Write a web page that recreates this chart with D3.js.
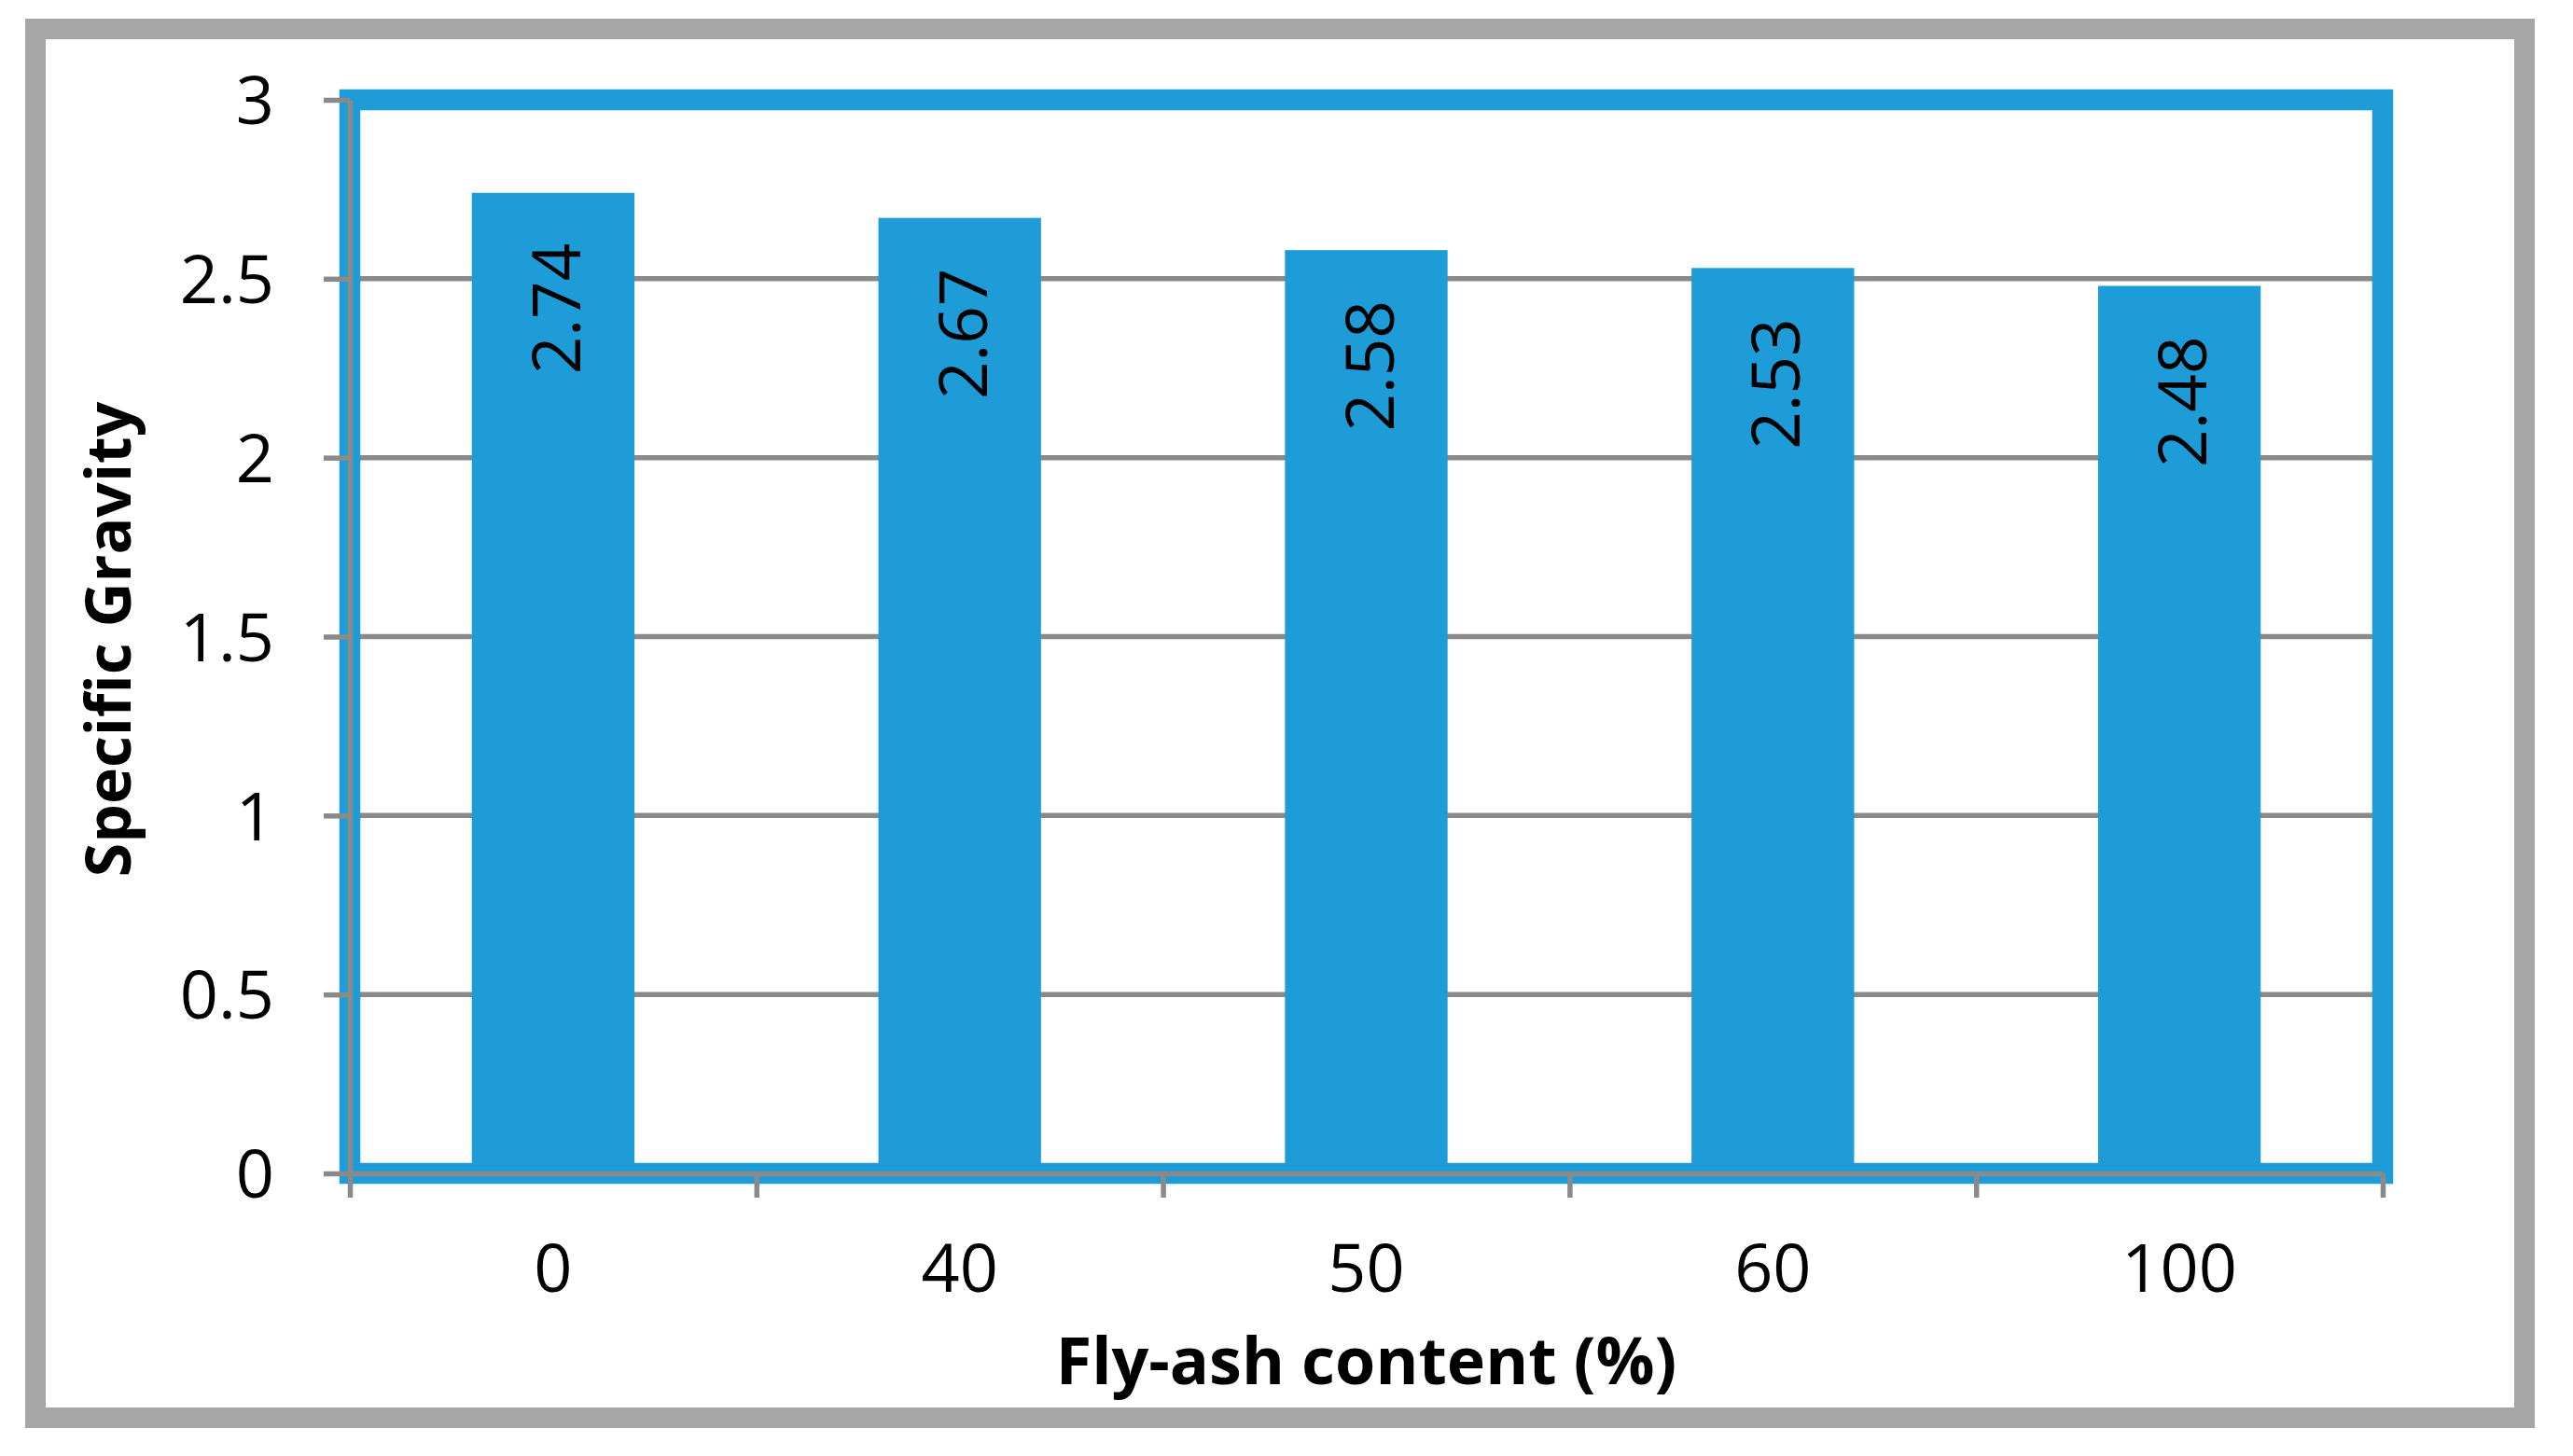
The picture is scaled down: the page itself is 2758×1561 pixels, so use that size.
<!DOCTYPE html>
<html>
<head>
<meta charset="utf-8">
<script src="https://cdn.jsdelivr.net/npm/d3@7"></script>
<style>
  html, body { margin: 0; padding: 0; background: #ffffff; }
  svg { display: block; }
</style>
</head>
<body>
<svg id="chart" width="2758" height="1561"></svg>
<script>
// ---- data ----
const categories = ["0", "40", "50", "60", "100"];
const values = [2.74, 2.67, 2.58, 2.53, 2.48];
const valueLabels = ["2.74", "2.67", "2.58", "2.53", "2.48"];
const yTicks = [0, 0.5, 1, 1.5, 2, 2.5, 3];
const yTickLabels = ["0", "0.5", "1", "1.5", "2", "2.5", "3"];
const xTitle = "Fly-ash content (%)";
const yTitle = "Specific Gravity";

// ---- layout ----
const W = 2758, H = 1561;
const plot = { left: 375, right: 2554, top: 107, bottom: 1258 };
const FONT = "'Open Sans', 'DejaVu Sans', sans-serif";
const BLUE = "#1e9cd8";
const GRID = "#8a8a8a";
const FRAME = "#a6a6a6";

const svg = d3.select("#chart");

// outer gray frame
svg.append("rect")
  .attr("x", 38).attr("y", 31)
  .attr("width", 2668).attr("height", 1489)
  .attr("fill", "#ffffff")
  .attr("stroke", FRAME).attr("stroke-width", 22);

// scales
const x = d3.scaleBand()
  .domain(categories)
  .range([plot.left, plot.right])
  .paddingInner(0.6).paddingOuter(0.3);
const xBound = d3.scaleLinear()
  .domain([0, categories.length])
  .range([plot.left, plot.right]);
const y = d3.scaleLinear()
  .domain([0, 3])
  .range([plot.bottom, plot.top]);

// gridlines
svg.append("g").selectAll("line")
  .data(yTicks)
  .join("line")
  .attr("x1", plot.left).attr("x2", plot.right)
  .attr("y1", d => y(d)).attr("y2", d => y(d))
  .attr("stroke", GRID).attr("stroke-width", 5.5);

// bars
svg.append("g").selectAll("rect")
  .data(values)
  .join("rect")
  .attr("x", (d, i) => x(categories[i]))
  .attr("width", x.bandwidth())
  .attr("y", d => y(d))
  .attr("height", d => y(0) - y(d))
  .attr("fill", BLUE);

// plot area border (blue)
svg.append("rect")
  .attr("x", plot.left).attr("y", plot.top)
  .attr("width", plot.right - plot.left)
  .attr("height", plot.bottom - plot.top)
  .attr("fill", "none")
  .attr("stroke", BLUE).attr("stroke-width", 22.5);

// data labels (rotated, inside end)
svg.append("g").selectAll("text")
  .data(values)
  .join("text")
  .attr("transform", (d, i) => {
    const cx = x(categories[i]) + x.bandwidth() / 2 + 29;
    const ty = y(d) + 54;
    return `translate(${cx},${ty}) rotate(-90)`;
  })
  .attr("text-anchor", "end")
  .attr("font-family", FONT)
  .attr("font-size", 71)
  .attr("fill", "#000")
  .text((d, i) => valueLabels[i]);

// y axis
const yAxis = d3.axisLeft(y)
  .tickValues(yTicks)
  .tickFormat((d, i) => yTickLabels[i])
  .tickSize(28)
  .tickSizeOuter(0)
  .tickPadding(53);
const gy = svg.append("g")
  .attr("transform", `translate(${plot.left},0)`)
  .call(yAxis);
gy.select(".domain").attr("stroke", GRID).attr("stroke-width", 5.5);
gy.selectAll(".tick line").attr("stroke", GRID).attr("stroke-width", 5.5);
gy.selectAll(".tick text")
  .attr("font-family", FONT).attr("font-size", 72)
  .attr("fill", "#000").attr("dy", "0.357em");

// x axis: boundary ticks
const xTickAxis = d3.axisBottom(xBound)
  .tickValues(d3.range(categories.length + 1))
  .tickFormat(() => "")
  .tickSize(26)
  .tickSizeOuter(0);
const gxt = svg.append("g")
  .attr("transform", `translate(0,${plot.bottom})`)
  .call(xTickAxis);
gxt.select(".domain").attr("stroke", GRID).attr("stroke-width", 5.5);
gxt.selectAll(".tick line").attr("stroke", GRID).attr("stroke-width", 5.5);

// x axis: category labels
const xLabelAxis = d3.axisBottom(x).tickSize(0).tickSizeOuter(0);
const gxl = svg.append("g")
  .attr("transform", `translate(0,${plot.bottom})`)
  .call(xLabelAxis);
gxl.select(".domain").remove();
gxl.selectAll(".tick text")
  .attr("font-family", FONT).attr("font-size", 72)
  .attr("fill", "#000")
  .attr("y", 127).attr("dy", 0);

// axis titles
svg.append("text")
  .attr("x", (plot.left + plot.right) / 2)
  .attr("y", 1484)
  .attr("text-anchor", "middle")
  .attr("font-family", FONT).attr("font-weight", 700)
  .attr("font-size", 70)
  .attr("fill", "#000")
  .text(xTitle);

svg.append("text")
  .attr("transform", `translate(140,${(plot.top + plot.bottom) / 2 + 3}) rotate(-90)`)
  .attr("text-anchor", "middle")
  .attr("font-family", FONT).attr("font-weight", 700)
  .attr("font-size", 66)
  .attr("fill", "#000")
  .text(yTitle);
</script>
</body>
</html>
